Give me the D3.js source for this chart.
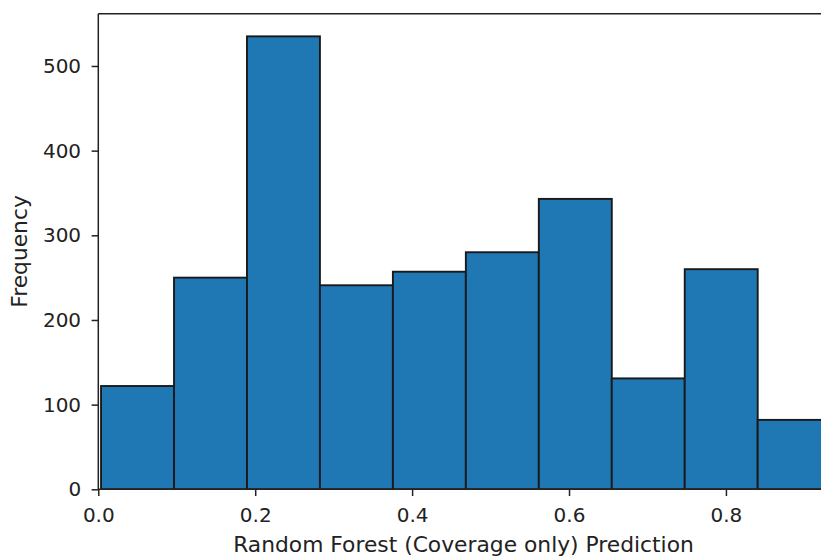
<!DOCTYPE html>
<html>
<head>
<meta charset="utf-8">
<script src="https://cdn.jsdelivr.net/npm/d3@7.9.0/dist/d3.min.js"></script>
<style>
  html, body { margin: 0; padding: 0; background: #fff; }
  svg { display: block; font-family: "DejaVu Sans", sans-serif; }
</style>
</head>
<body>
<div id="chart"></div>
<script>
// histogram bins
const binEdges = [0.0035, 0.0965, 0.1895, 0.2825, 0.3755, 0.4685, 0.5615, 0.6545, 0.7475, 0.8405, 0.9335];
const counts = [122, 250, 535, 241, 257, 280, 343, 131, 260, 82];
const xTicks = [0.0, 0.2, 0.4, 0.6, 0.8];
const yTicks = [0, 100, 200, 300, 400, 500];
const xLabel = 'Random Forest (Coverage only) Prediction';
const yLabel = 'Frequency';

const bins = counts.map((c, i) => ({ x0: binEdges[i], x1: binEdges[i + 1], count: c }));

const width = 821;
const height = 559;
const plot = { left: 98.3, right: 828.7, top: 13.7, bottom: 489.3 };

const svg = d3.select('#chart')
  .append('svg')
  .attr('width', width)
  .attr('height', height);

const xScale = d3.scaleLinear()
  .domain([0, 0.931])
  .range([plot.left, plot.right]);

const yScale = d3.scaleLinear()
  .domain([0, 561.75])
  .range([plot.bottom, plot.top]);

svg.append('clipPath')
  .attr('id', 'plot-clip')
  .append('rect')
  .attr('x', plot.left)
  .attr('y', plot.top)
  .attr('width', plot.right - plot.left)
  .attr('height', plot.bottom - plot.top);

// bars
svg.append('g')
  .attr('clip-path', 'url(#plot-clip)')
  .selectAll('rect')
  .data(bins)
  .join('rect')
  .attr('x', d => xScale(d.x0))
  .attr('y', d => yScale(d.count))
  .attr('width', d => xScale(d.x1) - xScale(d.x0))
  .attr('height', d => yScale(0) - yScale(d.count))
  .attr('fill', '#1f77b4')
  .attr('stroke', '#1a1a1a')
  .attr('stroke-width', 1.9);

// axes
const xAxis = d3.axisBottom(xScale)
  .tickValues(xTicks)
  .tickFormat(d3.format('.1f'))
  .tickSize(6.7)
  .tickPadding(11.5);

const yAxis = d3.axisLeft(yScale)
  .tickValues(yTicks)
  .tickSize(6.7)
  .tickPadding(10.5);

const gx = svg.append('g')
  .attr('transform', `translate(0, ${plot.bottom})`)
  .call(xAxis);

const gy = svg.append('g')
  .attr('transform', `translate(${plot.left}, 0)`)
  .call(yAxis);

[gx, gy].forEach(g => {
  g.select('.domain').remove();
  g.selectAll('.tick line').attr('stroke', '#222').attr('stroke-width', 1.5);
  g.selectAll('.tick text')
    .attr('fill', '#222')
    .style('font-family', '"DejaVu Sans", sans-serif')
    .style('font-size', '20px');
});

// spines
const spines = svg.append('g')
  .attr('stroke', '#222')
  .attr('stroke-width', 1.5)
  .attr('fill', 'none');

spines.append('line')
  .attr('x1', plot.left).attr('x2', plot.left)
  .attr('y1', plot.top).attr('y2', plot.bottom);
spines.append('line')
  .attr('x1', plot.left).attr('x2', plot.right)
  .attr('y1', plot.bottom).attr('y2', plot.bottom);
spines.append('line')
  .attr('x1', plot.left).attr('x2', plot.right)
  .attr('y1', plot.top).attr('y2', plot.top);
spines.append('line')
  .attr('x1', plot.right).attr('x2', plot.right)
  .attr('y1', plot.top).attr('y2', plot.bottom);

// labels
svg.append('text')
  .attr('x', (plot.left + plot.right) / 2)
  .attr('y', 552)
  .attr('text-anchor', 'middle')
  .attr('fill', '#222')
  .style('font-size', '21.8px')
  .text(xLabel);

svg.append('text')
  .attr('transform', `translate(27, ${(plot.top + plot.bottom) / 2}) rotate(-90)`)
  .attr('text-anchor', 'middle')
  .attr('fill', '#222')
  .style('font-size', '21.8px')
  .text(yLabel);
</script>
</body>
</html>
